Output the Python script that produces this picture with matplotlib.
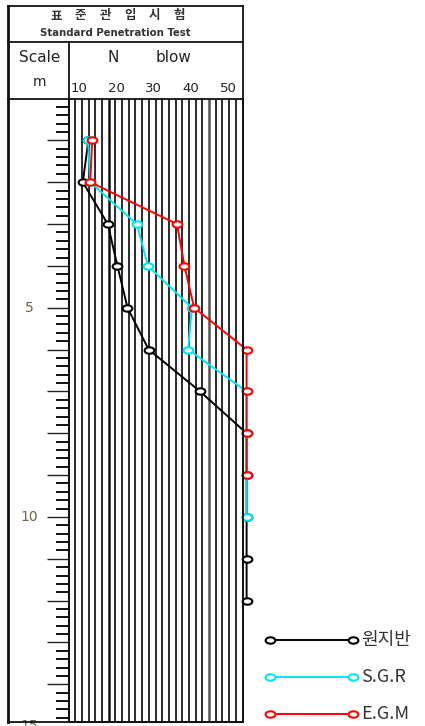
import numpy as np
import matplotlib
matplotlib.use("Agg")
import matplotlib.pyplot as plt
from matplotlib.lines import Line2D
from matplotlib.path import Path
import matplotlib.transforms as mtransforms

# ---------------- data ----------------
depth_base = [1, 2, 3, 4, 5, 6, 7, 8, 9, 10, 11, 12]
n_base = [12.5, 11, 17.7, 20.3, 23, 28.7, 42.5, 55, 55, 55, 55, 55]

depth_sgr = [1, 2, 3, 4, 5, 6, 7, 8, 9, 10]
n_sgr = [12.4, 13, 25.5, 28.5, 40.3, 39.3, 55, 55, 55, 55]

depth_egm = [1, 2, 3, 4, 5, 6, 7, 8, 9]
n_egm = [13.5, 13, 36.3, 38.3, 40.9, 55, 55, 55, 55]

series_names = ["원지반", "S.G.R", "E.G.M"]
n_ticks = [10, 20, 30, 40, 50]
depth_labels = [5, 10, 15]
title_chars = ["표", "준", "관", "입", "시", "험"]

# ---------------- figure ----------------
W, H = 425, 726
fig = plt.figure(figsize=(W / 100, H / 100), dpi=100)
fig.patch.set_facecolor("white")

def fx(x):
    return x / W

def fy(y):
    return 1 - y / H

KFONT = ["Noto Sans CJK KR", "DejaVu Sans"]
TXT = "#222222"

# plot axes
ax_l, ax_r, ax_t, ax_b = 68.5, 242.5, 98.5, 722.0
ax = fig.add_axes([fx(ax_l), fy(ax_b), fx(ax_r - ax_l), (ax_b - ax_t) / H])
xmin, xmax = 7.15, 53.9
ax.set_xlim(xmin, xmax)
ax.set_ylim(14.9, 0)
for s in ax.spines.values():
    s.set_linewidth(1.3)
    s.set_color("#111111")
ax.spines["top"].set_visible(False)
ax.set_xticks([])

# vertical grid lines
grid_x = np.linspace(xmin, xmax, 27)[1:-1]
for i, gx in enumerate(grid_x):
    lw = 1.8 if i in (5, 20) else 1.25
    col = "#111111" if i != 20 else "#555555"
    ax.axvline(gx, color=col, lw=lw, zorder=1)

# depth ticks
ax.set_yticks(np.arange(1, 15, 1))
ax.set_yticks(np.arange(0.2, 14.9, 0.2), minor=True)
ax.tick_params(axis="y", which="major", length=15.5, width=1.0, direction="out",
               color="#222222", pad=0, labelleft=False)
ax.tick_params(axis="y", which="minor", length=9.7, width=1.4, direction="out",
               color="#111111")
ytrans = mtransforms.blended_transform_factory(ax.transAxes, ax.transData)
for d in depth_labels:
    ax.text((29 - ax_l) / (ax_r - ax_l), d, str(d), transform=ytrans,
            ha="center", va="center", fontsize=10, color="#6b6250", clip_on=False)

# ellipse marker
t = np.linspace(0, 2 * np.pi, 40)
ell = Path(np.column_stack([np.cos(t), 0.66 * np.sin(t)]), closed=True)

colors = ["#000000", "#00e6f0", "#ff0000"]
data = [(n_base, depth_base), (n_sgr, depth_sgr), (n_egm, depth_egm)]
for (nv, dv), c in zip(data, colors):
    ax.plot(nv, dv, color=c, lw=1.4, marker=ell, markersize=7,
            markerfacecolor="white", markeredgecolor=c, markeredgewidth=1.5,
            clip_on=False, zorder=3)

# ---------------- frame / header ----------------
def hline(y, x0, x1, lw=1.3):
    fig.add_artist(Line2D([fx(x0), fx(x1)], [fy(y), fy(y)], color="#111111", lw=lw))

def vline(x, y0, y1, lw=1.3):
    fig.add_artist(Line2D([fx(x), fx(x)], [fy(y0), fy(y1)], color="#111111", lw=lw))

hline(6, 8, 242.5)
hline(42, 8, 242.5)
hline(98.5, 8, 242.5)
hline(722, 8, 242.5)
vline(8.3, 6, 722, lw=2.0)
vline(242.5, 6, 722)
vline(68.5, 42, 722)

for i, ch in enumerate(title_chars):
    fig.text(fx(56 + i * 24.6), fy(16), ch, ha="center", va="center",
             fontsize=9, fontweight="bold", family=KFONT, color="#333333")
fig.text(fx(115), fy(33), "Standard Penetration Test", ha="center", va="center",
         fontsize=7.3, fontweight="bold", color="#333333")
fig.text(fx(39.5), fy(58), "Scale", ha="center", va="center", fontsize=11, color=TXT)
fig.text(fx(40), fy(82), "m", ha="center", va="center", fontsize=10, color=TXT)
fig.text(fx(113), fy(58), "N", ha="center", va="center", fontsize=11, color=TXT)
fig.text(fx(174), fy(58), "blow", ha="center", va="center", fontsize=11, color=TXT)

xtrans = mtransforms.blended_transform_factory(ax.transData, fig.transFigure)
for v in n_ticks:
    ax.text(v, fy(89), str(v), transform=xtrans, ha="center", va="center",
            fontsize=9.5, color=TXT, clip_on=False)

# ---------------- legend ----------------
leg_y = [640, 677, 714]
for name, c, ly in zip(series_names, colors, leg_y):
    fig.add_artist(Line2D([fx(270), fx(353)], [fy(ly), fy(ly)], color=c, lw=1.4,
                          marker=ell, markersize=7, markerfacecolor="white",
                          markeredgecolor=c, markeredgewidth=1.5))
    fig.text(fx(361), fy(ly), name, ha="left", va="center", fontsize=13,
             family=KFONT, color="#333333")

fig.savefig("out.png", dpi=100, facecolor="white")
